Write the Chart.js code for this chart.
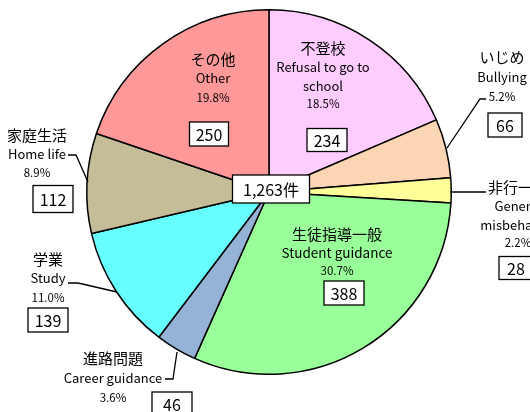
<!DOCTYPE html>
<html>
<head>
<meta charset="utf-8">
<script src="https://cdn.jsdelivr.net/npm/chart.js@4"></script>
<style>
  html, body { margin: 0; padding: 0; background: #fff; }
  #wrap { width: 530px; height: 412px; position: relative; }
</style>
</head>
<body>
<div id="wrap"><canvas id="pieChart"></canvas></div>
<script>
// data (clockwise from 12 o'clock)
const labelsJa = ['不登校', 'いじめ', '非行一般', '生徒指導一般', '進路問題', '学業', '家庭生活', 'その他'];
const labelsEn = [['Refusal to go to', 'school'], ['Bullying'], ['General', 'misbehavior'], ['Student guidance'],
                  ['Career guidance'], ['Study'], ['Home life'], ['Other']];
const counts = [234, 66, 28, 388, 46, 139, 112, 250];
const percents = ['18.5%', '5.2%', '2.2%', '30.7%', '3.6%', '11.0%', '8.9%', '19.8%'];
const totalLabel = '1,263件';

const sliceColors = ['#FFCCFF', '#FCD5B4', '#FFFF99', '#99FF99', '#95B3D7', '#66FFFF', '#C4BD97', '#FF9999'];

const JA = '15px "Noto Sans CJK JP"';
const EN = '13px "Noto Sans CJK JP"';
const PCT = '11.5px "Noto Sans CJK JP"';
const NUM = '16px "Noto Sans CJK JP"';

// where each label sits: x, y of each line, box centre and size
const notes = [
  { x: 323, y: [48, 67, 86, 104], box: [327, 140, 40, 23] },
  { x: 502, y: [57, 77, 97], box: [505, 125, 34, 24], lead: [[486, 99], [480, 99], [447, 148]] },
  { x: 518, y: [187, 206, 225, 243], box: [516, 268, 34, 23], lead: [[486, 192], [450, 192]] },
  { x: 337, y: [234, 253, 271], box: [344, 293, 40, 24] },
  { x: 113, y: [358, 378, 398], box: [172, 404, 40, 24], lead: [[165, 379], [173, 379], [177, 352]] },
  { x: 48, y: [259, 278, 298], box: [48, 320, 40, 24], lead: [[68, 283], [78, 283], [117, 292]] },
  { x: 37, y: [135, 154, 173], box: [53, 199, 40, 27], lead: [[68, 155], [76, 155], [88, 182]] },
  { x: 213, y: [59, 78, 98], box: [209, 134, 39, 24] }
];

function drawBox(ctx, cx, cy, w, h, text) {
  ctx.fillStyle = '#fff';
  ctx.fillRect(cx - w / 2, cy - h / 2, w, h);
  ctx.strokeStyle = '#000';
  ctx.lineWidth = 1.3;
  ctx.strokeRect(cx - w / 2, cy - h / 2, w, h);
  ctx.fillStyle = '#000';
  ctx.font = NUM;
  ctx.fillText(text, cx, cy + 1);
}

const labelPlugin = {
  id: 'pieLabels',
  afterDatasetsDraw(chart) {
    const ctx = chart.ctx;
    const arc = chart.getDatasetMeta(0).data[0];
    ctx.save();
    ctx.textAlign = 'center';
    ctx.textBaseline = 'middle';
    notes.forEach((n, i) => {
      if (n.lead) {
        ctx.beginPath();
        ctx.strokeStyle = '#000';
        ctx.lineWidth = 1.3;
        n.lead.forEach((p, k) => k ? ctx.lineTo(p[0], p[1]) : ctx.moveTo(p[0], p[1]));
        ctx.stroke();
      }
      ctx.fillStyle = '#000';
      let k = 0;
      ctx.font = JA;
      ctx.fillText(labelsJa[i], n.x, n.y[k++]);
      ctx.font = i === 3 ? '13.5px "Noto Sans CJK JP"' : EN;
      labelsEn[i].forEach(t => ctx.fillText(t, n.x, n.y[k++]));
      ctx.font = PCT;
      ctx.fillText(percents[i], n.x, n.y[k++]);
      drawBox(ctx, n.box[0], n.box[1], n.box[2], n.box[3], String(counts[i]));
    });
    // total in the middle
    drawBox(ctx, arc.x + 2, arc.y - 3, 77, 28, totalLabel);
    ctx.restore();
  }
};

new Chart(document.getElementById('pieChart'), {
  type: 'pie',
  data: {
    labels: labelsJa,
    datasets: [{
      data: counts,
      backgroundColor: sliceColors,
      borderColor: '#000',
      borderWidth: 1.5
    }]
  },
  options: {
    responsive: true,
    maintainAspectRatio: false,
    animation: false,
    layout: { padding: { top: 9, bottom: 37, left: 86, right: 78 } },
    plugins: {
      legend: { display: false },
      tooltip: { enabled: false }
    }
  },
  plugins: [labelPlugin]
});
</script>
</body>
</html>
